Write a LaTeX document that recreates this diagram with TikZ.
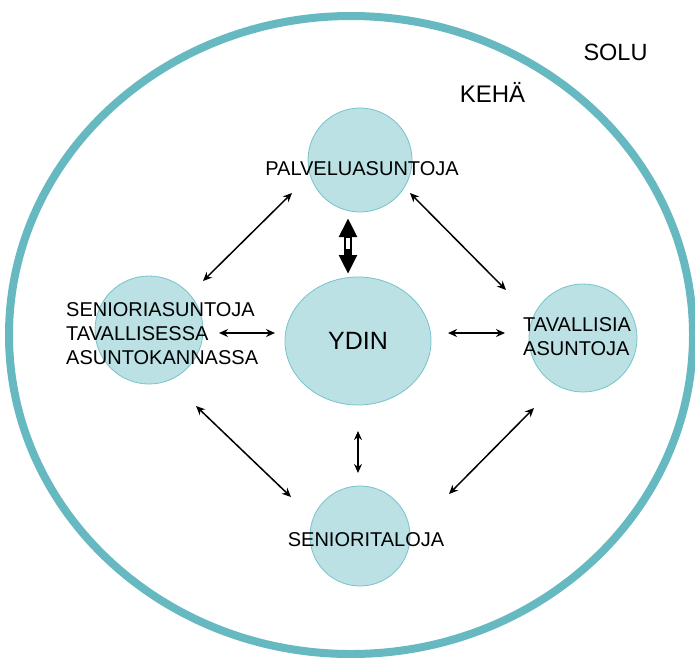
\documentclass[tikz,border=0pt]{standalone}
\usepackage{fontspec}
\setmainfont{Liberation Sans}
\usetikzlibrary{arrows.meta,shapes.geometric}
\definecolor{ringc}{RGB}{102,185,192}
\definecolor{cfill}{RGB}{187,225,228}
\definecolor{cedge}{RGB}{118,195,202}
\begin{document}
\begin{tikzpicture}[x=1pt,y=-1pt,
  bub/.style={circle, fill=cfill, draw=cedge, line width=0.8pt, inner sep=0pt},
  lab/.style={font=\fontsize{20}{24}\selectfont, inner sep=0pt, text=black},
  conn/.style={{Stealth[length=9pt,width=8pt]}-{Stealth[length=9pt,width=8pt]}, line width=1.5pt, black}]
\useasboundingbox (0,0) rectangle (695,657);
% outer cell
\draw[ringc, line width=8pt] (351,335) ellipse [x radius=342pt, y radius=319pt];
% bubbles
\node[bub, minimum size=104pt] (pal) at (360,160) {};
\node[bub, minimum size=108pt] (lft) at (149,330) {};
\node[bub, minimum size=108pt] (rgt) at (583,338) {};
\node[bub, minimum size=100pt] (bot) at (360,536) {};
\node[bub, ellipse, minimum width=146pt, minimum height=128pt,
      font=\fontsize{25}{30}\selectfont] (ydin) at (358,341) {YDIN};
% labels
\node[lab, anchor=base] (palt) at (362,175) {PALVELUASUNTOJA};
\node[lab, anchor=west, align=left] (lftt) at (66,334) {SENIORIASUNTOJA\\TAVALLISESSA\\ASUNTOKANNASSA};
\node[lab, anchor=west, align=left] (rgtt) at (523,337) {TAVALLISIA\\ASUNTOJA};
\node[lab, anchor=base] (bott) at (366,546) {SENIORITALOJA};
\node[lab, font=\fontsize{23.5}{28}\selectfont, anchor=base] (solu) at (615.5,60) {SOLU};
\node[lab, font=\fontsize{24}{28}\selectfont, anchor=base] (keha) at (492.5,102) {KEHÄ};
% connector end points
\coordinate (a1) at (292,193); \coordinate (a2) at (203,281);
\coordinate (b1) at (410,193); \coordinate (b2) at (506,290);
\coordinate (c1) at (219,333); \coordinate (c2) at (275,333);
\coordinate (d1) at (448,333); \coordinate (d2) at (505,333);
\coordinate (e1) at (358,431); \coordinate (e2) at (358,473);
\coordinate (f1) at (196,406); \coordinate (f2) at (291,497);
\coordinate (g1) at (534,408); \coordinate (g2) at (449,494);
\draw[conn] (a1) -- (a2);
\draw[conn] (b1) -- (b2);
\draw[conn] (c1) -- (c2);
\draw[conn] (d1) -- (d2);
\draw[conn] (e1) -- (e2);
\draw[conn] (f1) -- (f2);
\draw[conn] (g1) -- (g2);
% thick arrow between PALVELUASUNTOJA and YDIN
\coordinate (t1) at (348,218); \coordinate (t2) at (348,274);
\draw[line width=8pt, {Triangle[length=19pt,width=17pt]}-{Triangle[length=19pt,width=17pt]}] (t1) -- (t2);
\fill[white] (346,237.5) rectangle (350,249);
\end{tikzpicture}
\end{document}
